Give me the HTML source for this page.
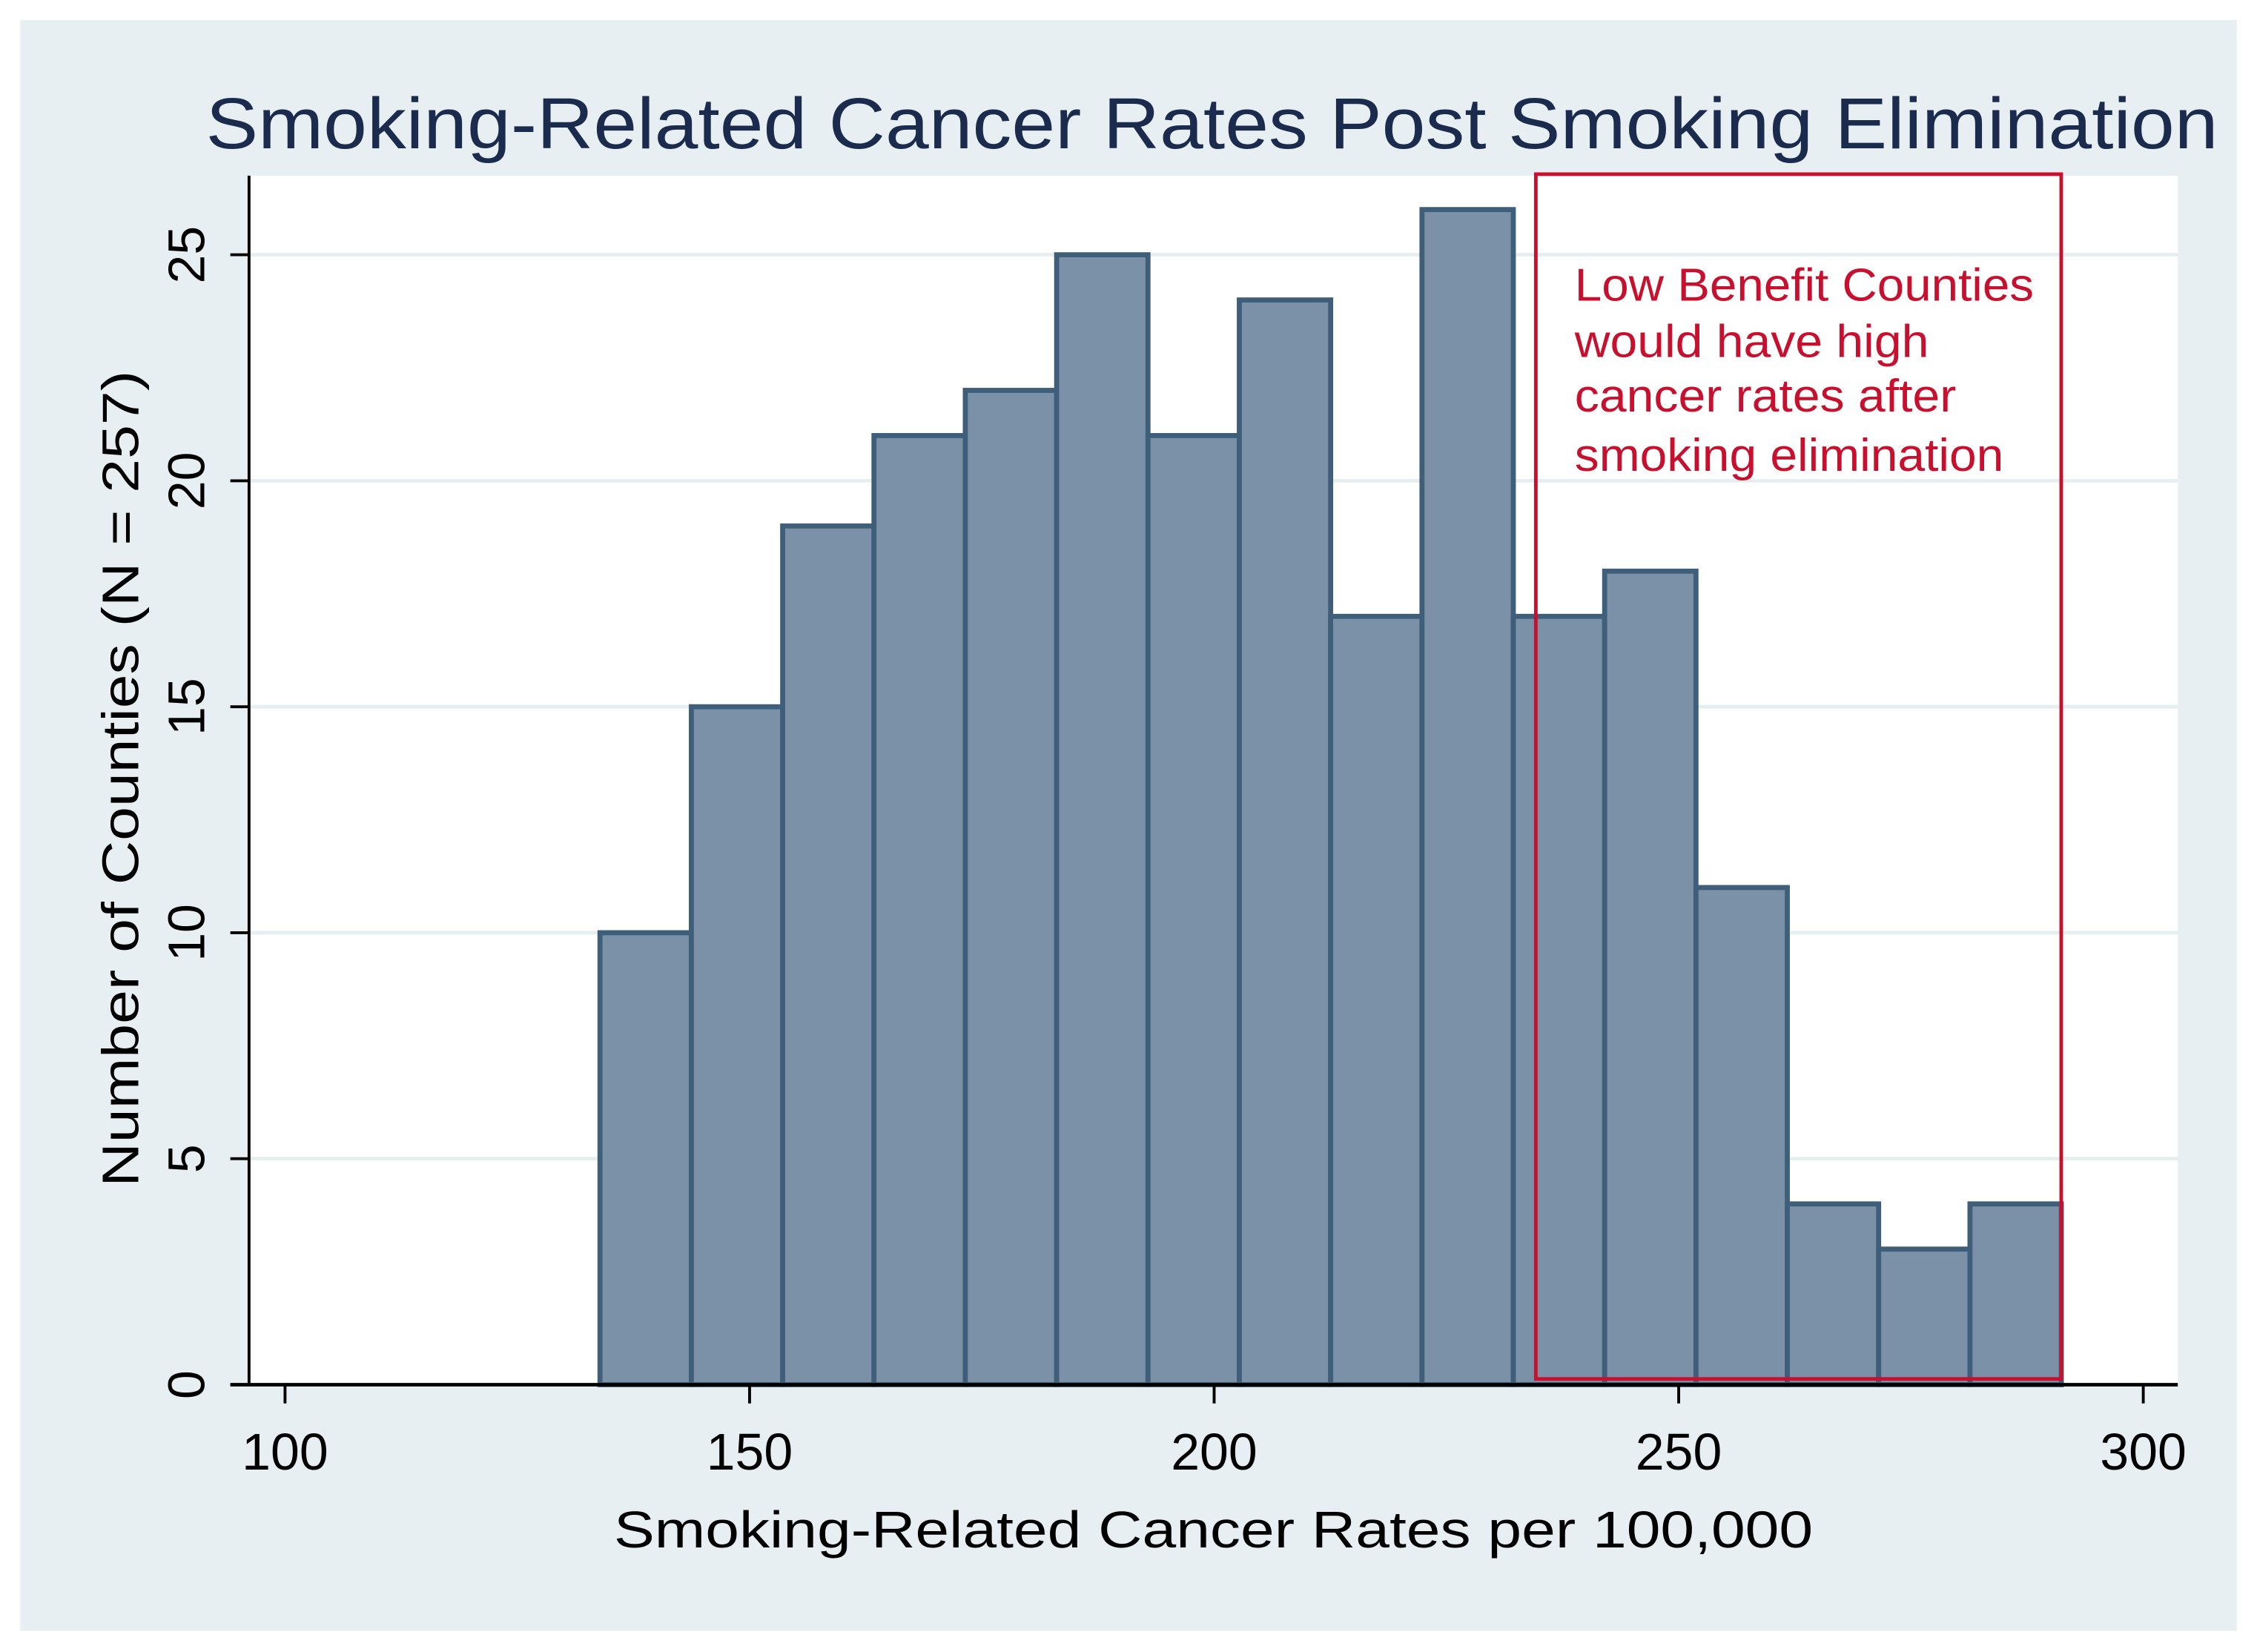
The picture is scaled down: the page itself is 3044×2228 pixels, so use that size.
<!DOCTYPE html>
<html><head><meta charset="utf-8"><style>
html,body{margin:0;padding:0;background:#fff;}
svg{display:block;font-family:"Liberation Sans",Arial,sans-serif;}
</style></head><body>
<svg id="chart" width="3044" height="2228" viewBox="0 0 1568 1147.7" xmlns="http://www.w3.org/2000/svg">
<rect x="14" y="14" width="1540" height="1119" fill="#e8eff2"/>
<rect x="173" y="122" width="1340" height="840" fill="#ffffff"/>
<g id="grid"></g>
<g id="bars"></g>
<g id="axes"></g>
<text x="143" y="103" font-size="50" fill="#1b2b4e" textLength="1398" lengthAdjust="spacingAndGlyphs">Smoking-Related Cancer Rates Post Smoking Elimination</text>
<text x="843" y="1075" font-size="36" text-anchor="middle" fill="#000" textLength="833" lengthAdjust="spacingAndGlyphs">Smoking-Related Cancer Rates per 100,000</text>
<text transform="translate(96,541) rotate(-90)" font-size="36" text-anchor="middle" fill="#000" textLength="567" lengthAdjust="spacingAndGlyphs">Number of Counties (N = 257)</text>
<rect x="1067" y="121" width="365" height="837" fill="none" stroke="#c8102e" stroke-width="2.5"/>
<g font-size="32" fill="#c8102e" lengthAdjust="spacingAndGlyphs">
<text x="1094" y="209" textLength="319" lengthAdjust="spacingAndGlyphs">Low Benefit Counties</text>
<text x="1094" y="248" textLength="246" lengthAdjust="spacingAndGlyphs">would have high</text>
<text x="1094" y="286" textLength="265" lengthAdjust="spacingAndGlyphs">cancer rates after</text>
<text x="1094" y="327" textLength="298" lengthAdjust="spacingAndGlyphs">smoking elimination</text>
</g>
</svg>
<script>
const binStart = 133.9;
const binWidth = 9.83;
const counts = [10,15,19,21,22,25,21,24,17,26,17,18,11,4,3,4];
const xTicks = [100,150,200,250,300];
const yTicks = [0,5,10,15,20,25];
const NS = "http://www.w3.org/2000/svg";
function xs(v){return 198 + (v-100)*(1489-198)/200;}
function ys(v){return 962 - v*(962-177)/25;}
function mk(tag, attrs, parent){const e=document.createElementNS(NS,tag);for(const k in attrs)e.setAttribute(k,attrs[k]);parent.appendChild(e);return e;}
const grid=document.getElementById('grid'), bars=document.getElementById('bars'), axes=document.getElementById('axes');
yTicks.forEach(t=>{
  if(t>0){const g=mk('line',{x1:173,x2:1513,y1:ys(t),y2:ys(t),stroke:'#e6eef0','stroke-width':2.5},grid);
  
  }
  const tk=mk('line',{x1:160,x2:173,y1:ys(t),y2:ys(t),stroke:'#000','stroke-width':2},axes);
  
  
  const lb=mk('text',{transform:`translate(142,${ys(t)}) rotate(-90)`,'font-size':36,'text-anchor':'middle',fill:'#000'},axes);
  lb.textContent=t;
  
  
});
counts.forEach((c,i)=>{
  const x0=xs(binStart+i*binWidth), x1=xs(binStart+(i+1)*binWidth);
  const r=mk('rect',{x:x0,y:ys(c),width:x1-x0,height:ys(0)-ys(c),fill:'#7b91a8',stroke:'#3e5e7a','stroke-width':3.5},bars);
  
  
});
const ya=mk('line',{x1:173,x2:173,y1:122,y2:962,stroke:'#000','stroke-width':2},axes);


const xa=mk('line',{x1:160,x2:1513,y1:962,y2:962,stroke:'#000','stroke-width':2.5},axes);


xTicks.forEach(t=>{
  const tk=mk('line',{x1:xs(t),x2:xs(t),y1:962,y2:975,stroke:'#000','stroke-width':2},axes);
  
  
  const lb=mk('text',{x:xs(t),y:1021,'font-size':36,'text-anchor':'middle',fill:'#000'},axes);
  lb.textContent=t;
  
  
});
</script>
</body></html>
